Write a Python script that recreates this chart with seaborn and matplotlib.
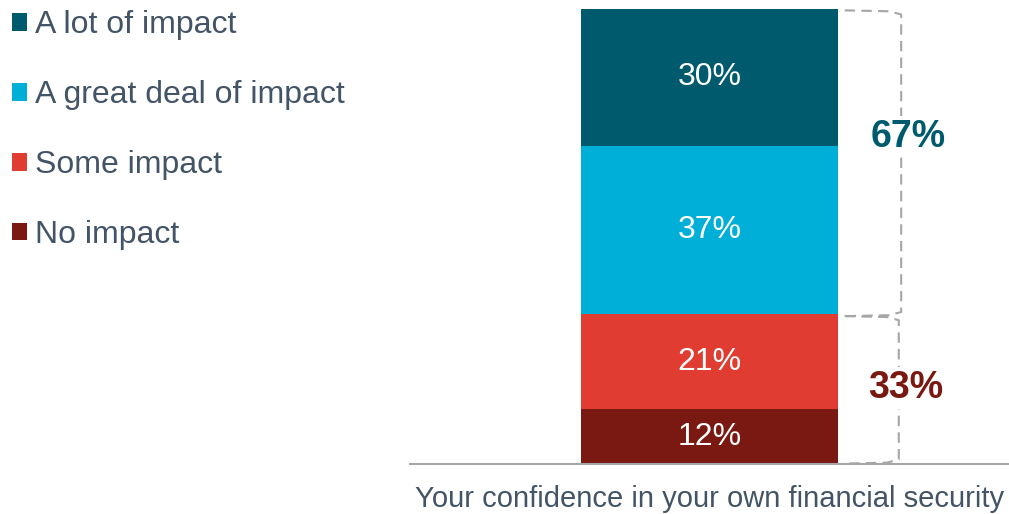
import matplotlib
matplotlib.use("Agg")
import matplotlib.pyplot as plt
import seaborn as sns
from matplotlib.patches import Patch

# === Data ===
category = ["Your confidence in your own financial security"]
levels = ["No impact", "Some impact", "A great deal of impact", "A lot of impact"]  # bottom -> top
values = [12, 21, 37, 30]
colors = ["#7A1812", "#E03C31", "#00AFD7", "#005A6E"]

groups = ["33%", "67%"]
group_ranges = [(0, 33), (33, 100)]
group_colors = ["#7A1812", "#005A6E"]
group_label_y = [16.7, 71.9]

text_color = "#425466"
line_grey = "#A6A6A6"

# === Plot ===
sns.set_style("white")
plt.rcParams["font.family"] = ["Liberation Sans", "DejaVu Sans"]

fig = plt.figure(figsize=(10.09, 5.14), dpi=100)
ax = fig.add_axes([410 / 1009, 50 / 514, 599 / 1009, 455 / 514])

bar_w = 0.4274
bottom = 0
for lvl, val, col in zip(levels, values, colors):
    sns.barplot(x=category, y=[val], color=col, width=bar_w, bottom=bottom,
                ax=ax, saturation=1, linewidth=0)
    ax.text(0, bottom + val / 2, f"{val}%", ha="center", va="center",
            color="white", fontsize=23)
    bottom += val

ax.set_xlim(-0.5, 0.5)
ax.set_ylim(0, 100)
ax.set_yticks([])
ax.set_ylabel("")
sns.despine(ax=ax, left=True, top=True, right=True)
ax.spines["bottom"].set_color(line_grey)
ax.spines["bottom"].set_linewidth(1.5)
ax.tick_params(axis="x", length=0, pad=15, labelsize=21, labelcolor=text_color)

# brackets for the two groups
x0 = bar_w / 2 + 0.012
for (lo, hi), lab, col, ly, xv in zip(group_ranges, groups, group_colors,
                                      group_label_y, [0.316, 0.320]):
    lo_e = lo + 0.1 if lo == 0 else lo - 0.5
    hi_e = hi - 0.3 if hi == 100 else hi - 0.5
    xs = [x0, xv - 0.02, xv, xv, xv - 0.02, x0]
    ys = [hi_e, hi_e - 0.2, hi_e - 0.9, lo_e + 0.9, lo_e + 0.2, lo_e]
    ax.plot(xs, ys, color=line_grey, lw=1.5, ls=(0, (5, 3)), clip_on=False)
    ax.text(xv + 0.012, ly, lab, ha="center", va="center", color=col,
            fontsize=27, fontweight="bold",
            bbox=dict(facecolor="white", edgecolor="none", pad=2))

# legend (top of stack first)
handles = [Patch(facecolor=c, edgecolor="none") for c in colors[::-1]]
fig.legend(handles, levels[::-1], loc="upper left",
           bbox_to_anchor=(6 / 1009, 1 - 4 / 514), frameon=False, fontsize=23,
           handlelength=0.46, handleheight=0.46, handletextpad=0.25,
           labelspacing=1.25, borderaxespad=0, borderpad=0.2,
           labelcolor=text_color)

fig.savefig("out.png", dpi=100)
